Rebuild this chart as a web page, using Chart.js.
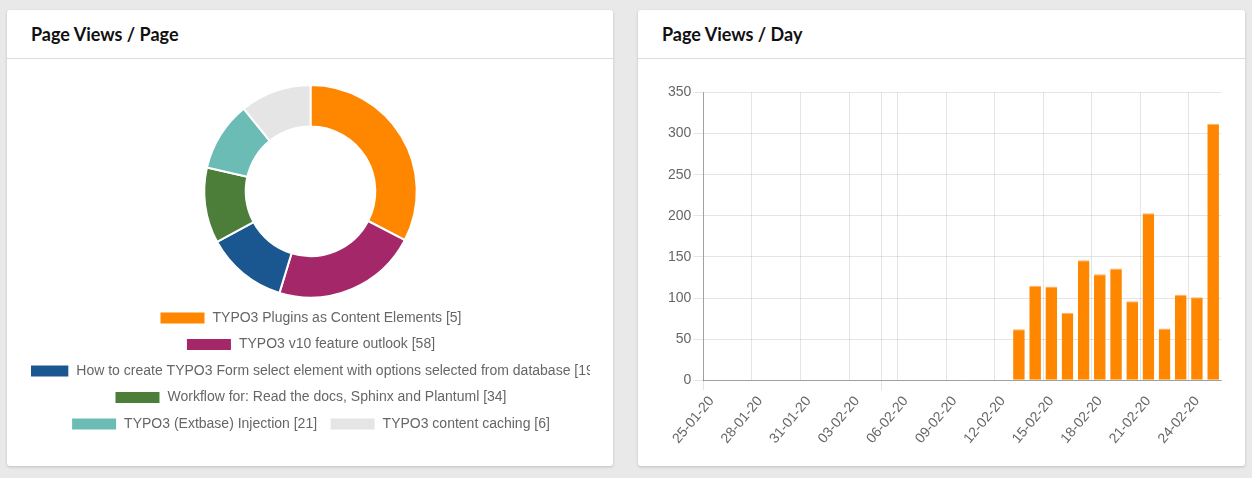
<!DOCTYPE html>
<html>
<head>
<meta charset="utf-8">
<script src="https://cdn.jsdelivr.net/npm/chart.js@4.4.1/dist/chart.umd.min.js"></script>
<style>
  html, body { margin: 0; padding: 0; }
  body { width: 1252px; height: 478px; background: #e9e9e9; position: relative; overflow: hidden; font-family: "Liberation Sans", Arial, sans-serif; }
  .card { position: absolute; top: 10px; height: 456px; background: #fff; border-radius: 3px; box-shadow: 0 1px 3px rgba(0,0,0,0.18); overflow: hidden; }
  .card .hd { height: 48px; line-height: 48px; padding-left: 24px; border-bottom: 1px solid #dcdcdc; font-family: Lato, "Open Sans", sans-serif; font-weight: 700; font-size: 18px; color: #111; }
  .wrap { position: absolute; }
  #c1 { left: 7px; width: 606px; }
  #c2 { left: 638px; width: 607px; }
  #w1 { left: 24px; top: 74px; width: 559px; height: 357px; }
  #w2 { left: 24px; top: 72px; width: 567px; height: 368px; }
</style>
</head>
<body>
<div class="card" id="c1"><div class="hd">Page Views / Page</div><div class="wrap" id="w1"><canvas id="pie"></canvas></div></div>
<div class="card" id="c2"><div class="hd">Page Views / Day</div><div class="wrap" id="w2"><canvas id="bar"></canvas></div></div>
<script>
// ---- Data: Page Views / Page (doughnut) ----
const pageLabels = [
  "TYPO3 Plugins as Content Elements [5]",
  "TYPO3 v10 feature outlook [58]",
  "How to create TYPO3 Form select element with options selected from database [19]",
  "Workflow for: Read the docs, Sphinx and Plantuml [34]",
  "TYPO3 (Extbase) Injection [21]",
  "TYPO3 content caching [6]"
];
const pageViews = [542, 368, 206, 191, 176, 180];
const pageColors = ["#ff8700", "#a4276a", "#1a568f", "#4c7e3a", "#6abcb5", "#e5e5e5"];

// ---- Data: Page Views / Day (bar) ----
const dayLabels = [
  "25-01-20","26-01-20","27-01-20","28-01-20","29-01-20","30-01-20","31-01-20",
  "01-02-20","02-02-20","03-02-20","04-02-20","05-02-20","06-02-20","07-02-20",
  "08-02-20","09-02-20","10-02-20","11-02-20","12-02-20","13-02-20","14-02-20",
  "15-02-20","16-02-20","17-02-20","18-02-20","19-02-20","20-02-20","21-02-20",
  "22-02-20","23-02-20","24-02-20","25-02-20"
];
const dayViews = [
  0,0,0,0,0,0,0,
  0,0,0,0,0,0,0,
  0,0,0,0,0,62,115,
  114,82,146,129,136,96,203,
  63,104,101,312
];
const shownTickIdx = [0,3,6,9,12,15,18,21,24,27,30];
const extraGridIdx = [11];
const tickMarkIdx = [0, 11];
const yMax = 350, yStep = 50;

const axisFont = { family: "'Liberation Sans', Arial, sans-serif", size: 14 };
const gridColor = 'rgba(0,0,0,0.1)';

new Chart(document.getElementById('pie'), {
  type: 'doughnut',
  data: {
    labels: pageLabels,
    datasets: [{ data: pageViews, backgroundColor: pageColors, borderColor: '#fff', borderWidth: 2 }]
  },
  options: {
    responsive: true, maintainAspectRatio: false, animation: false,
    cutout: '61%',
    plugins: {
      tooltip: { enabled: false },
      legend: {
        position: 'bottom',
        labels: {
          color: '#666', boxWidth: 46, boxHeight: 13, padding: 12.5,
          font: { family: "'Liberation Sans', Arial, sans-serif", size: 14 }
        }
      }
    }
  }
});

new Chart(document.getElementById('bar'), {
  type: 'bar',
  data: {
    labels: dayLabels,
    datasets: [{ data: dayViews, backgroundColor: '#ff8700', borderColor: '#ffb266', borderWidth: { top: 1, left: 0, right: 0, bottom: 0 } }]
  },
  options: {
    responsive: true, maintainAspectRatio: false, animation: false,
    layout: { padding: { left: 4, right: 0, top: 0, bottom: 0 } },
    plugins: { legend: { display: false }, tooltip: { enabled: false } },
    scales: {
      x: {
        offset: true,
        grid: {
          offset: true,
          tickLength: 10,
          color: (ctx) => (shownTickIdx.includes(ctx.index) || extraGridIdx.includes(ctx.index)) ? gridColor : 'rgba(0,0,0,0)',
          tickColor: (ctx) => tickMarkIdx.includes(ctx.index) ? gridColor : 'rgba(0,0,0,0)'
        },
        border: { color: 'rgba(0,0,0,0.3)' },
        ticks: {
          autoSkip: false, minRotation: 50, maxRotation: 50, padding: 3,
          color: '#666', font: axisFont,
          callback: function(v, i) { return shownTickIdx.includes(i) ? dayLabels[i] : ''; }
        }
      },
      y: {
        min: 0, max: yMax,
        grid: { color: gridColor, tickLength: 10 },
        border: { color: 'rgba(0,0,0,0.3)' },
        ticks: { stepSize: yStep, padding: 2, color: '#666', font: axisFont }
      }
    }
  }
});
</script>
</body>
</html>
